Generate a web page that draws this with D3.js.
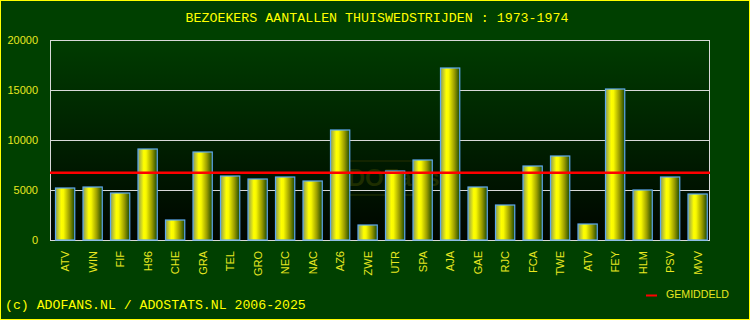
<!DOCTYPE html>
<html>
<head>
<meta charset="utf-8">
<script src="https://cdn.jsdelivr.net/npm/d3@7"></script>
<style>
  html, body { margin: 0; padding: 0; background: #004000; }
  svg { display: block; }
</style>
</head>
<body>
<div id="chart"></div>
<script>
// data
const clubs = ['ATV', 'WIN', 'FIF', 'H96', 'CHE', 'GRA', 'TEL', 'GRO', 'NEC', 'NAC', 'AZ6', 'ZWE',
  'UTR', 'SPA', 'AJA', 'GAE', 'RJC', 'FCA', 'TWE', 'ATV', 'FEY', 'HLM', 'PSV', 'MVV'];
const visitors = [5200, 5300, 4700, 9100, 2000, 8800, 6400, 6100, 6300, 5900, 11000, 1500,
  6900, 8000, 17200, 5300, 3500, 7400, 8400, 1600, 15100, 5000, 6300, 4600];
const yTicks = [0, 5000, 10000, 15000, 20000];
const title = 'BEZOEKERS AANTALLEN THUISWEDSTRIJDEN : 1973-1974';
const footer = '(c) ADOFANS.NL / ADOSTATS.NL 2006-2025';
const legendLabel = 'GEMIDDELD';

const W = 750, H = 320;
const margin = { top: 40, right: 40, bottom: 80, left: 50 };
const plotW = W - margin.left - margin.right;
const plotH = H - margin.top - margin.bottom;
const mono = "'Liberation Mono', 'DejaVu Sans Mono', monospace";
const sans = "'Liberation Sans', Arial, sans-serif";

const svg = d3.select('#chart').append('svg')
  .attr('width', W).attr('height', H);

const defs = svg.append('defs');
const bgGrad = defs.append('linearGradient').attr('id', 'plotbg')
  .attr('x1', 0).attr('y1', 0).attr('x2', 0).attr('y2', 1);
bgGrad.append('stop').attr('offset', '0%').attr('stop-color', '#003c00');
bgGrad.append('stop').attr('offset', '100%').attr('stop-color', '#000500');

const barGrad = defs.append('linearGradient').attr('id', 'bargrad')
  .attr('x1', 0).attr('y1', 0).attr('x2', 1).attr('y2', 0);
[[0, '#8a9a58'], [0.3, '#ffff00'], [0.42, '#f8f800'], [0.72, '#9a9c00'], [1, '#1c4800']]
  .forEach(([o, c]) => barGrad.append('stop').attr('offset', o).attr('stop-color', c));

// page background + yellow frame
svg.append('rect')
  .attr('x', 0.5).attr('y', 0.5).attr('width', W - 1).attr('height', H - 1)
  .attr('fill', '#004000').attr('stroke', '#ffff00');

const g = svg.append('g').attr('transform', `translate(${margin.left},${margin.top})`);

const x = d3.scaleBand().domain(d3.range(clubs.length)).range([0, plotW]);
const y = d3.scaleLinear().domain([0, 20000]).range([plotH, 0]);

g.append('rect').attr('width', plotW).attr('height', plotH).attr('fill', 'url(#plotbg)');

// watermark
const wm = g.append('g').attr('transform', `translate(${plotW / 2 + 5},${y(6500)})`);
wm.append('rect').attr('x', -46).attr('y', -14).attr('width', 92).attr('height', 34)
  .attr('fill', 'none').attr('stroke', '#1a2a00').attr('stroke-width', 1.5);
wm.append('text').attr('text-anchor', 'middle').attr('y', 11)
  .attr('font-family', sans).attr('font-weight', 'bold').attr('font-size', 24)
  .attr('fill', '#1e2e00').text('ADOFans');

// grid
g.selectAll('.grid').data(yTicks).enter().append('line')
  .attr('x1', 0).attr('x2', plotW)
  .attr('y1', d => Math.round(y(d)) + 0.5).attr('y2', d => Math.round(y(d)) + 0.5)
  .attr('stroke', '#d8d8d8');
g.append('line').attr('x1', 0.5).attr('x2', 0.5).attr('y1', 0).attr('y2', plotH).attr('stroke', '#d8d8d8');
g.append('line').attr('x1', plotW - 0.5).attr('x2', plotW - 0.5).attr('y1', 0).attr('y2', plotH).attr('stroke', '#d8d8d8');

// bars
const bw = x.bandwidth() * 0.7;
g.selectAll('.bar').data(visitors).enter().append('rect')
  .attr('class', 'bar')
  .attr('x', (d, i) => x(i) + x.bandwidth() * 0.2)
  .attr('y', d => y(d))
  .attr('width', bw)
  .attr('height', d => plotH - y(d))
  .attr('fill', 'url(#bargrad)')
  .attr('stroke', '#5eaaf0')
  .attr('stroke-width', 1.2);

// average
const avg = d3.mean(visitors);
g.append('line').attr('x1', 0).attr('x2', plotW)
  .attr('y1', y(avg)).attr('y2', y(avg))
  .attr('stroke', '#ff0000').attr('stroke-width', 2.5);

// y axis labels
g.selectAll('.ylab').data(yTicks).enter().append('text')
  .attr('x', -12).attr('y', d => y(d) + 4)
  .attr('text-anchor', 'end')
  .attr('font-family', sans).attr('font-size', 11).attr('fill', '#e8e820')
  .text(d => d);

// x axis labels
g.selectAll('.xlab').data(clubs).enter().append('text')
  .attr('transform', (d, i) => `translate(${x(i) + x.bandwidth() * 0.55 + 4},${plotH + 11}) rotate(-90)`)
  .attr('text-anchor', 'end')
  .attr('font-family', sans).attr('font-size', 11).attr('fill', '#e8e820')
  .text(d => d);

// title
svg.append('text').attr('x', 377).attr('y', 22).attr('text-anchor', 'middle')
  .attr('font-family', mono).attr('font-size', 13.3).attr('fill', '#ffff00')
  .text(title);

// footer
svg.append('text').attr('x', 5).attr('y', 309)
  .attr('font-family', mono).attr('font-size', 13.2).attr('fill', '#ffff00')
  .text(footer);

// legend
svg.append('line').attr('x1', 646).attr('x2', 657).attr('y1', 295.5).attr('y2', 295.5)
  .attr('stroke', '#ff0000').attr('stroke-width', 2);
svg.append('text').attr('x', 666).attr('y', 298)
  .attr('font-family', sans).attr('font-size', 10.6).attr('fill', '#e8e820')
  .text(legendLabel);
</script>
</body>
</html>
